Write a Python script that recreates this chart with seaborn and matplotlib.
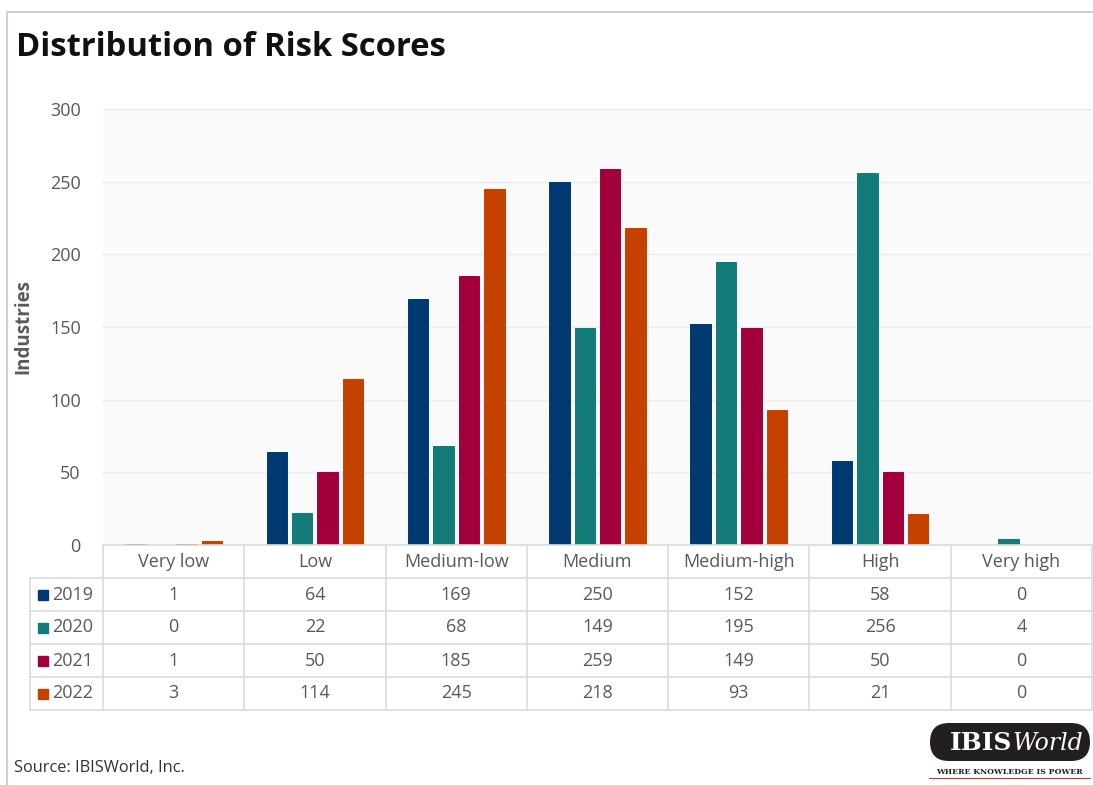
import matplotlib
matplotlib.use("Agg")
import matplotlib.pyplot as plt
import seaborn as sns
import pandas as pd
from matplotlib.patches import FancyBboxPatch, Rectangle

categories = ["Very low", "Low", "Medium-low", "Medium", "Medium-high", "High", "Very high"]
years = ["2019", "2020", "2021", "2022"]
v2019 = [1, 64, 169, 250, 152, 58, 0]
v2020 = [0, 22, 68, 149, 195, 256, 4]
v2021 = [1, 50, 185, 259, 149, 50, 0]
v2022 = [3, 114, 245, 218, 93, 21, 0]
series = [v2019, v2020, v2021, v2022]
colors = ["#003A70", "#137B78", "#A2003D", "#C54100"]
yticks = [0, 50, 100, 150, 200, 250, 300]

rows = []
for y, vals in zip(years, series):
    for c, v in zip(categories, vals):
        rows.append({"Category": c, "Year": y, "Industries": v})
df = pd.DataFrame(rows)

sns.set_theme(style="white")
plt.rcParams["font.family"] = ["Open Sans", "DejaVu Sans"]

W, H = 1093, 785
fig = plt.figure(figsize=(W / 100, H / 100), dpi=100)
fig.patch.set_facecolor("white")

def fx(px):
    return px / W

def fy(py):
    return 1 - py / H

left_px, right_px, top_px, bot_px = 103, 1092, 109, 545
ax = fig.add_axes([fx(left_px), fy(bot_px), fx(right_px - left_px), (bot_px - top_px) / H])
ax.set_facecolor("#fafafa")
sns.barplot(data=df, x="Category", y="Industries", hue="Year", order=categories,
            hue_order=years, palette=colors, saturation=1, width=0.72, gap=0.2, ax=ax,
            linewidth=0, legend=False, errorbar=None)
for p in ax.patches:
    if p.get_height() > 0:
        p.set_edgecolor(p.get_facecolor())
        p.set_linewidth(0.7)
ax.set_xlim(-0.5, len(categories) - 0.5)
ax.set_ylim(0, 300)
ax.set_yticks(yticks)
ax.set_yticklabels([str(t) for t in yticks], fontsize=13, color="#595959")
ax.tick_params(axis="y", length=0, pad=16)
ax.set_xticks([])
ax.set_xlabel("")
ax.set_ylabel("Industries", fontsize=13.5, fontweight="bold", color="#595959")
ax.yaxis.set_label_coords(-0.07, 0.5)
for s in ax.spines.values():
    s.set_visible(False)
ax.grid(axis="y", color="#ebebeb", linewidth=1)
ax.set_axisbelow(True)

ov = fig.add_axes([0, 0, 1, 1])
ov.set_xlim(0, W)
ov.set_ylim(H, 0)
ov.axis("off")
ov.patch.set_alpha(0)

ov.plot([7, W], [12, 12], color="#d0d0d0", lw=1.5)
ov.plot([7, 7], [12, H], color="#d0d0d0", lw=1.5)

ov.text(16, 47, "Distribution of Risk Scores", fontsize=23.6, fontweight="bold",
        color="#111111", va="center", ha="left")

grid_c = "#dcdcdc"
col_w = (right_px - left_px) / len(categories)
row_tops = [545, 578, 611, 644, 677, 710]
leg_left = 30
ov.plot([left_px, right_px], [545, 545], color=grid_c, lw=1.2)
for yy in row_tops[1:]:
    ov.plot([leg_left, right_px], [yy, yy], color=grid_c, lw=1.2)
for i in range(len(categories) + 1):
    xx = left_px + i * col_w
    ov.plot([xx, xx], [545, 710], color=grid_c, lw=1.2)
ov.plot([leg_left, leg_left], [578, 710], color=grid_c, lw=1.2)

txt_c = "#595959"
fs = 13
for i, c in enumerate(categories):
    cx = left_px + (i + 0.5) * col_w
    ov.text(cx, 562, c, ha="center", va="center", fontsize=fs, color=txt_c)
for r, (y, vals, col) in enumerate(zip(years, series, colors)):
    cy = (row_tops[r + 1] + row_tops[r + 2]) / 2
    ov.add_patch(Rectangle((38, cy - 5), 10, 10, color=col))
    ov.text(52, cy, y, ha="left", va="center", fontsize=fs, color=txt_c)
    for i, v in enumerate(vals):
        cx = left_px + (i + 0.5) * col_w
        ov.text(cx, cy, str(v), ha="center", va="center", fontsize=fs, color=txt_c)

ov.text(14, 768, "Source: IBISWorld, Inc.", fontsize=11.8, color="#333333",
        ha="left", va="center")

# logo
ov.add_patch(FancyBboxPatch((930, 723), 160, 38, boxstyle="round,pad=0,rounding_size=19",
                            facecolor="#231f20", edgecolor="none"))
ov.text(1012, 743, "IBIS", fontsize=18, fontweight="bold", family="DejaVu Serif",
        color="white", ha="right", va="center")
ov.text(1012, 743, "World", fontsize=17, style="italic", family="DejaVu Serif",
        color="white", ha="left", va="center")
ov.text(1009, 772, "WHERE KNOWLEDGE IS POWER", fontsize=5.6, fontweight="bold",
        family="DejaVu Serif", color="#231f20", ha="center", va="center")
ov.plot([929, 1090], [777.5, 777.5], color="#d0312d", lw=0.8)

fig.savefig("out.png", dpi=100)
